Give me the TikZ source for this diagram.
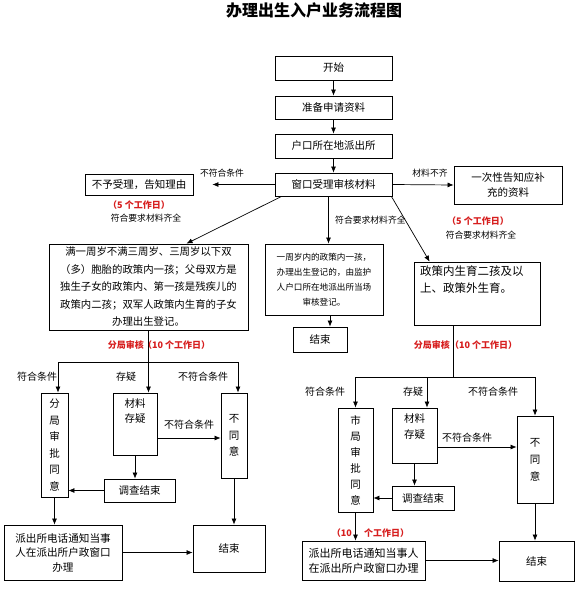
\documentclass[tikz,border=0pt]{standalone}
\usepackage{fontspec}
\setmainfont{Noto Sans CJK SC}
\usetikzlibrary{arrows.meta}
\definecolor{redlab}{RGB}{215,30,30}
\begin{document}
\begin{tikzpicture}[x=1pt,y=-1pt]
\tikzset{
 box/.style={draw=black, line width=0.8pt, inner sep=0pt, align=center, font=\fontsize{10.5}{15}\selectfont},
 arr/.style={draw=black, line width=0.7pt, -{Latex[length=6pt,width=5pt]}},
 ln/.style={draw=black, line width=0.7pt},
 lab/.style={inner sep=0pt, font=\fontsize{10}{12}\selectfont},
 smalllab/.style={inner sep=0pt, font=\fontsize{8.8}{11}\selectfont},
 redlabel/.style={inner sep=0pt, text=redlab, font=\bfseries\fontsize{9}{11}\selectfont},
 vtext/.style={font=\fontsize{10.5}{16.5}\selectfont}
}
\path[use as bounding box, fill=white] (0,0) rectangle (576,589);

\node[inner sep=0pt, font=\bfseries\fontsize{16}{16}\selectfont] (title) at (314,10) {办理出生入户业务流程图};

% top chain
\node[box, minimum width=117pt, minimum height=24pt] (start) at (333.5,68) {开始};
\node[box, minimum width=117pt, minimum height=23pt] (prep) at (333.5,107.5) {准备申请资料};
\node[box, minimum width=117pt, minimum height=24pt] (hukou) at (333.5,146) {户口所在地派出所};
\node[box, minimum width=117pt, minimum height=23pt] (window) at (333.5,184.5) {窗口受理审核材料};
\node[box, minimum width=108pt, minimum height=21pt] (reject) at (139,184.5) {不予受理，告知理由};
\node[box, minimum width=108pt, minimum height=38pt] (supp) at (508,185) {一次性告知应补\\充的资料};

\draw[arr] (start) -- (prep);
\draw[arr] (prep) -- (hukou);
\draw[arr] (hukou) -- (window);
\coordinate (rejtip) at ([xshift=19pt]reject.east);
\draw[arr] (window.west) -- (rejtip);
\draw[arr] (window.east) -- (supp.west);

\node[smalllab] (l1) at (222,173) {不符合条件};
\node[redlabel] (l2) at (139,205) {（5 个工作日）};
\node[smalllab] (l3) at (146,218) {符合要求材料齐全};
\node[smalllab] (l4) at (430,173) {材料不齐};
\node[redlabel] (l5) at (478,221) {（5 个工作日）};
\node[smalllab] (l6) at (481,235) {符合要求材料齐全};
\node[smalllab, anchor=west] (l7) at (335,220) {符合要求材料齐全};

% second level
\node[box, minimum width=199pt, minimum height=86pt, font=\fontsize{10.4}{17.5}\selectfont] (leftbox) at (148.5,287) {满一周岁不满三周岁、三周岁以下双\\（多）胞胎的政策内一孩；父母双方是\\独生子女的政策内、第一孩是残疾儿的\\政策内二孩；双军人政策内生育的子女\\办理出生登记。};
\node[box, minimum width=118pt, minimum height=71pt, font=\fontsize{8.6}{15}\selectfont] (midbox) at (324,279.5) {一周岁内的政策内一孩，\\办理出生登记的，由监护\\人户口所在地派出所当场\\审核登记。};
\node[box, minimum width=54pt, minimum height=25pt] (midend) at (320,339.5) {结束};
\node[box, minimum width=126pt, minimum height=63pt] (rightbox) at (477,293.5) {};
\node[anchor=north west, inner sep=0pt, align=left, font=\fontsize{11.5}{17}\selectfont] (righttext) at (420,266) {政策内生育二孩及以\\上、政策外生育。};

\draw[arr] ([xshift=7pt]window.south west) -- ([xshift=38pt]leftbox.north);
\coordinate (wmid) at ([xshift=-5pt]window.south);
\draw[arr] (wmid) -- (wmid |- midbox.north);
\draw[arr] ([xshift=-1pt]window.south east) -- ([xshift=16pt]rightbox.north west);
\coordinate (mmid) at ([xshift=6pt]midbox.south);
\draw[arr] (mmid) -- (mmid |- midend.north);

% lower left
\node[box, minimum width=27pt, minimum height=104pt, vtext] (Lapprove) at (54.5,445) {分\\局\\审\\批\\同\\意};
\node[box, minimum width=44pt, minimum height=62pt] (Ldoubt) at (135,424) {};
\node[inner sep=0pt, align=center, anchor=north, font=\fontsize{10.5}{15}\selectfont] (Ldoubttext) at ([yshift=-6pt]Ldoubt.north) {材料\\存疑};
\node[box, minimum width=26pt, minimum height=85pt, vtext] (Ldisagree) at (234,435.5) {不\\同\\意};
\node[box, minimum width=71pt, minimum height=23pt] (Linvest) at (139.5,490.5) {调查结束};
\node[box, minimum width=118pt, minimum height=55pt, font=\fontsize{10.6}{14.5}\selectfont] (Lnotify) at (63,552.5) {派出所电话通知当事\\人在派出所户政窗口\\办理};
\node[box, minimum width=72pt, minimum height=47pt] (Lend) at (229,548.5) {结束};

\coordinate (LjC) at (148.5,362);
\coordinate (LjL) at (58,362);
\coordinate (LjR) at (238,362);
\draw[arr] (leftbox.south) -- (leftbox.south |- Ldoubt.north);
\draw[ln] (LjL) -- (LjR);
\draw[arr] (LjL) -- (LjL |- Lapprove.north);
\draw[arr] (LjR) -- (LjR |- Ldisagree.north);
\coordinate (Ld1) at ([yshift=-14pt]Ldoubt.east);
\draw[arr] (Ld1) -- (Ld1 -| Ldisagree.west);
\draw[arr] (Ldoubt.south) -- (Ldoubt.south |- Linvest.north);
\draw[arr] (Linvest.west) -- (Linvest.west -| Lapprove.east);
\draw[arr] (Lapprove.south) -- (Lapprove.south |- Lnotify.north);
\draw[arr] (Lnotify.east) -- (Lnotify.east -| Lend.west);
\draw[arr] (Ldisagree.south) -- (Ldisagree.south |- Lend.north);

\node[redlabel, anchor=east] (Lr1) at (144,345) {分局审核};
\node[redlabel, anchor=west] (Lr2) at (143,345) {（10 个工作日）};
\node[lab] (Lb1) at (37,377) {符合条件};
\node[lab] (Lb2) at (126,377) {存疑};
\node[lab] (Lb3) at (203,377) {不符合条件};
\node[lab] (Lb4) at (189,425) {不符合条件};

% lower right
\node[box, minimum width=35pt, minimum height=104pt, font=\fontsize{10.5}{16}\selectfont] (Rapprove) at (355.5,460) {市\\局\\审\\批\\同\\意};
\node[box, minimum width=45pt, minimum height=55pt] (Rdoubt) at (414.5,435.5) {};
\node[inner sep=0pt, align=center, anchor=north, font=\fontsize{10.5}{16}\selectfont] (Rdoubttext) at ([yshift=-6pt]Rdoubt.north) {材料\\存疑};
\node[box, minimum width=36pt, minimum height=87pt, font=\fontsize{10.5}{17}\selectfont] (Rdisagree) at (535,459.5) {不\\同\\意};
\node[box, minimum width=62pt, minimum height=24pt] (Rinvest) at (423,498) {调查结束};
\node[box, minimum width=123pt, minimum height=39pt, font=\fontsize{11}{15}\selectfont] (Rnotify) at (363.5,560.5) {派出所电话通知当事人\\在派出所户政窗口办理};
\node[box, minimum width=75pt, minimum height=40pt] (Rend) at (536.5,561) {\raisebox{-7pt}{结束}};

\coordinate (RjM) at (453,377);
\coordinate (RjL) at (355.5,377);
\coordinate (RjC) at (427,377);
\coordinate (RjR) at (535,377);
\draw[ln] (RjM |- rightbox.south) -- (RjM);
\draw[ln] (RjL) -- (RjR);
\draw[arr] (RjL) -- (RjL |- Rapprove.north);
\draw[arr] (RjC) -- (RjC |- Rdoubt.north);
\draw[arr] (RjR) -- (RjR |- Rdisagree.north);
\coordinate (Rd1) at ([yshift=-11.5pt]Rdoubt.east);
\draw[arr] (Rd1) -- (Rd1 -| Rdisagree.west);
\draw[arr] (Rdoubt.south) -- (Rdoubt.south |- Rinvest.north);
\draw[arr] (Rinvest.west) -- (Rinvest.west -| Rapprove.east);
\draw[arr] (Rapprove.south) -- (Rapprove.south |- Rnotify.north);
\draw[arr] (Rnotify.east) -- (Rnotify.east -| Rend.west);
\draw[arr] (Rdisagree.south) -- (Rdisagree.south |- Rend.north);

\node[redlabel, anchor=east] (Rr1) at (450,345) {分局审核};
\node[redlabel, anchor=west] (Rr2) at (450,345) {（10 个工作日）};
\node[redlabel, anchor=east] (Rr3) at (352,533) {（10};
\node[redlabel, anchor=west] (Rr4) at (364,533) {个工作日）};
\node[lab] (Rb1) at (325,392) {符合条件};
\node[lab] (Rb2) at (413,392) {存疑};
\node[lab] (Rb3) at (493,392) {不符合条件};
\node[lab] (Rb4) at (467,438) {不符合条件};
\end{tikzpicture}
\end{document}
